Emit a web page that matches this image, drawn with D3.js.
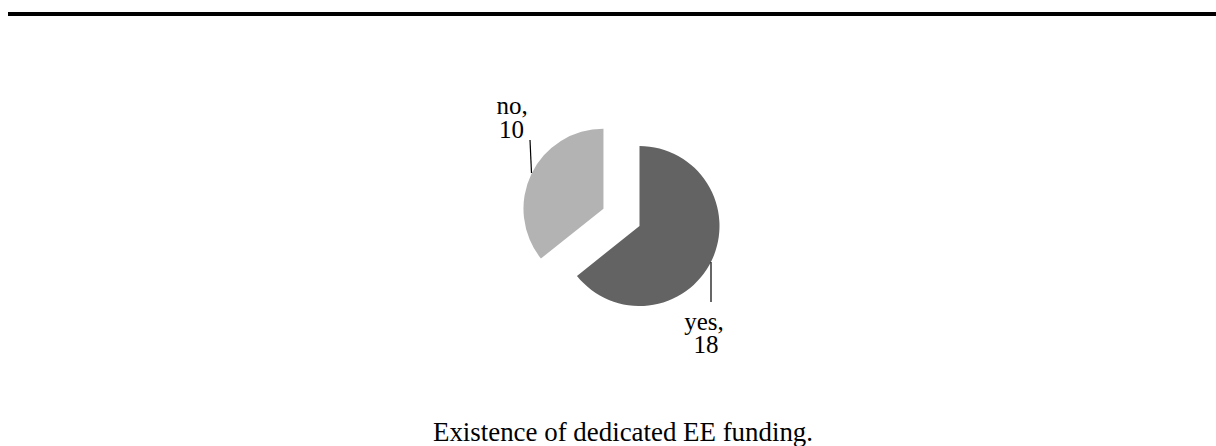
<!DOCTYPE html>
<html>
<head>
<meta charset="utf-8">
<script src="https://cdn.jsdelivr.net/npm/d3@7"></script>
<style>
  html, body { margin: 0; padding: 0; background: #fff; }
  svg { display: block; }
  text { font-family: "Liberation Serif", "Times New Roman", serif; fill: #000; }
</style>
</head>
<body>
<script>
const categories = ["yes", "no"];
const values = [18, 10];
const colors = ["#636363", "#b3b3b3"];
const captionText = "Existence of dedicated EE funding.";

const W = 1216, H = 446;
const svg = d3.select("body").append("svg").attr("width", W).attr("height", H);

// top rule
svg.append("rect").attr("x", 8).attr("y", 12).attr("width", W - 8).attr("height", 4).attr("fill", "#000");

const cx = 639.5, cy = 226, r = 80, explode = 40;
const data = categories.map((c, i) => ({ name: c, value: values[i], color: colors[i] }));
const pie = d3.pie().value(d => d.value).sort(null);
const arcs = pie(data);
const arc = d3.arc().innerRadius(0).outerRadius(r);

const g = svg.append("g").attr("transform", `translate(${cx},${cy})`);
arcs.forEach((a, i) => {
  const mid = (a.startAngle + a.endAngle) / 2;
  const off = a.data.name === "no" ? explode : 0;
  const dx = Math.sin(mid) * off, dy = -Math.cos(mid) * off;
  g.append("path")
    .attr("d", arc(a))
    .attr("fill", a.data.color)
    .attr("transform", `translate(${dx},${dy})`);
});

// leader lines & labels
const fs = 25;
const lp = svg.append("g");
// yes label
const yesA = arcs[0];
lp.append("line").attr("x1", 711).attr("y1", 262).attr("x2", 711).attr("y2", 302)
  .attr("stroke", "#000").attr("stroke-width", 1.2);
const yesT = lp.append("text").attr("text-anchor", "middle").attr("font-size", fs);
yesT.append("tspan").attr("x", 704).attr("y", 330).text(yesA.data.name + ",");
yesT.append("tspan").attr("x", 706).attr("y", 353).text(yesA.data.value);

// no label
const noA = arcs[1];
lp.append("line").attr("x1", 530).attr("y1", 140).attr("x2", 531.5).attr("y2", 173)
  .attr("stroke", "#000").attr("stroke-width", 1.2);
const noT = lp.append("text").attr("text-anchor", "middle").attr("font-size", fs);
noT.append("tspan").attr("x", 512).attr("y", 114).text(noA.data.name + ",");
noT.append("tspan").attr("x", 511.5).attr("y", 138).text(noA.data.value);

// caption
svg.append("text").attr("x", 623).attr("y", 440.5).attr("text-anchor", "middle")
  .attr("font-size", 26.9).text(captionText);
</script>
</body>
</html>
